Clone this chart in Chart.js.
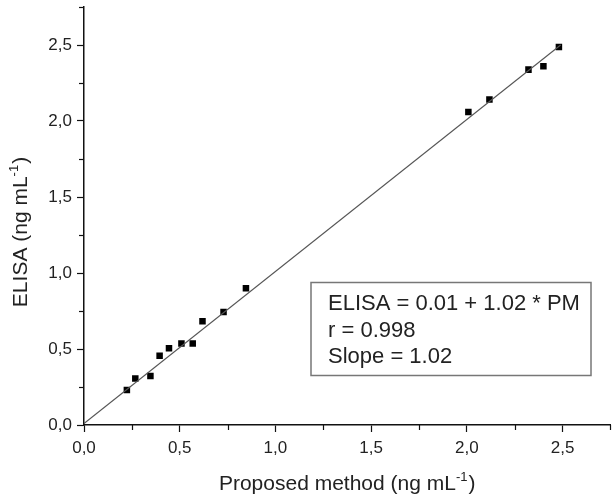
<!DOCTYPE html>
<html><head><meta charset="utf-8">
<script src="https://cdn.jsdelivr.net/npm/chart.js@4"></script>
<style>html,body{margin:0;padding:0;background:#fff}#wrap{width:615px;height:496px}</style>
</head><body><div id="wrap"><canvas id="c" width="615" height="496"></canvas></div>
<script>
const pmValues    = [0.224, 0.268, 0.347, 0.395, 0.444, 0.509, 0.568, 0.619, 0.729, 0.846, 2.008, 2.118, 2.322, 2.400, 2.481];
const elisaValues = [0.230, 0.306, 0.323, 0.455, 0.505, 0.536, 0.536, 0.682, 0.743, 0.899, 2.060, 2.141, 2.338, 2.360, 2.487];
const fitX = [0.0, 2.49];
const fitY = [0.01, 2.50];
const tickValues = [0, 0.5, 1.0, 1.5, 2.0, 2.5];
const statsText = ["ELISA = 0.01 + 1.02 * PM", "r = 0.998", "Slope = 1.02"];
const xTitleParts = ["Proposed method (ng mL", "-1", ")"];
const yTitleParts = ["ELISA (ng mL", "-1", ")"];

const FONT = '"Liberation Sans", Arial, sans-serif';
const isMajor = v => tickValues.some(t => Math.abs(v - t) < 1e-6);
const fmt = v => isMajor(v) ? v.toFixed(1).replace('.', ',') : '';

function measureSup(ctx, parts, size) {
  ctx.font = size + 'px ' + FONT;
  const w0 = ctx.measureText(parts[0]).width;
  ctx.font = Math.round(size * 0.6) + 'px ' + FONT;
  const w1 = ctx.measureText(parts[1]).width;
  ctx.font = size + 'px ' + FONT;
  const w2 = ctx.measureText(parts[2]).width;
  return {w0, w1, w2, total: w0 + w1 + 1 + w2};
}
function paintSupText(ctx, parts, size, x, y) {
  const m = measureSup(ctx, parts, size);
  ctx.font = size + 'px ' + FONT;
  ctx.fillText(parts[0], x, y);
  ctx.font = Math.round(size * 0.6) + 'px ' + FONT;
  ctx.fillText(parts[1], x + m.w0, y - size * 0.42);
  ctx.font = size + 'px ' + FONT;
  ctx.fillText(parts[2], x + m.w0 + m.w1 + 1, y);
}

const decor = {
  id: 'decor',
  afterDraw(chart) {
    const ctx = chart.ctx;
    const xs = chart.scales.x, ys = chart.scales.y;
    const ca = chart.chartArea;
    ctx.save();
    ctx.strokeStyle = '#111';
    ctx.lineWidth = 1.2;
    xs.ticks.forEach(t => {
      if (!isMajor(t.value)) {
        const px = Math.round(xs.getPixelForValue(t.value)) + 0.5;
        ctx.beginPath(); ctx.moveTo(px, ca.bottom); ctx.lineTo(px, ca.bottom + 5); ctx.stroke();
      }
    });
    ys.ticks.forEach(t => {
      if (!isMajor(t.value)) {
        const py = Math.round(ys.getPixelForValue(t.value)) + 0.5;
        ctx.beginPath(); ctx.moveTo(ca.left, py); ctx.lineTo(ca.left - 5, py); ctx.stroke();
      }
    });
    ctx.fillStyle = '#222';
    ctx.textBaseline = 'alphabetic';
    ctx.textAlign = 'left';
    const mx = measureSup(ctx, xTitleParts, 21);
    paintSupText(ctx, xTitleParts, 21, (ca.left + ca.right) / 2 - mx.total / 2, 490);
    const my = measureSup(ctx, yTitleParts, 21);
    ctx.save();
    ctx.translate(27, 232);
    ctx.rotate(-Math.PI / 2);
    paintSupText(ctx, yTitleParts, 21, -my.total / 2, 0);
    ctx.restore();
    ctx.strokeStyle = '#777';
    ctx.lineWidth = 1.5;
    ctx.strokeRect(311, 282.5, 280, 93);
    ctx.fillStyle = '#222';
    ctx.font = '22px ' + FONT;
    const by = [310, 336.5, 363];
    statsText.forEach((t, i) => ctx.fillText(t, 328, by[i]));
    ctx.restore();
  }
};

new Chart(document.getElementById('c'), {
  type: 'scatter',
  data: {
    datasets: [
      {
        label: 'fit',
        data: fitX.map((v, i) => ({x: v, y: fitY[i]})),
        showLine: true,
        borderColor: '#555',
        borderWidth: 1.1,
        pointRadius: 0,
        fill: false
      },
      {
        label: 'samples',
        data: pmValues.map((v, i) => ({x: v, y: elisaValues[i]})),
        pointStyle: 'rect',
        pointRadius: 4.6,
        backgroundColor: '#000',
        borderColor: '#000',
        borderWidth: 0
      }
    ]
  },
  options: {
    responsive: false,
    animation: false,
    layout: {padding: {top: 7, right: 1, left: 0, bottom: 0}},
    plugins: {legend: {display: false}, tooltip: {enabled: false}},
    scales: {
      x: {
        type: 'linear', min: 0, max: 2.75,
        afterFit: s => { s.height = 71; s.paddingLeft = 0; s.paddingRight = 0; },
        border: {display: true, color: '#111', width: 1.5},
        grid: {drawOnChartArea: false, drawTicks: true, tickLength: 7,
               tickColor: c => isMajor(c.tick.value) ? '#111' : 'rgba(0,0,0,0)', tickWidth: 1.2},
        ticks: {stepSize: 0.25, autoSkip: false, maxRotation: 0, color: '#222', padding: 6,
                font: {family: FONT, size: 17}, callback: v => fmt(v)}
      },
      y: {
        type: 'linear', min: 0, max: 2.75,
        afterFit: s => { s.width = 84; s.paddingTop = 0; s.paddingBottom = 0; },
        border: {display: true, color: '#111', width: 1.5},
        grid: {drawOnChartArea: false, drawTicks: true, tickLength: 7,
               tickColor: c => isMajor(c.tick.value) ? '#111' : 'rgba(0,0,0,0)', tickWidth: 1.2},
        ticks: {stepSize: 0.25, autoSkip: false, color: '#222', padding: 5,
                font: {family: FONT, size: 17}, callback: v => fmt(v)}
      }
    }
  },
  plugins: [decor]
});
</script></body></html>
